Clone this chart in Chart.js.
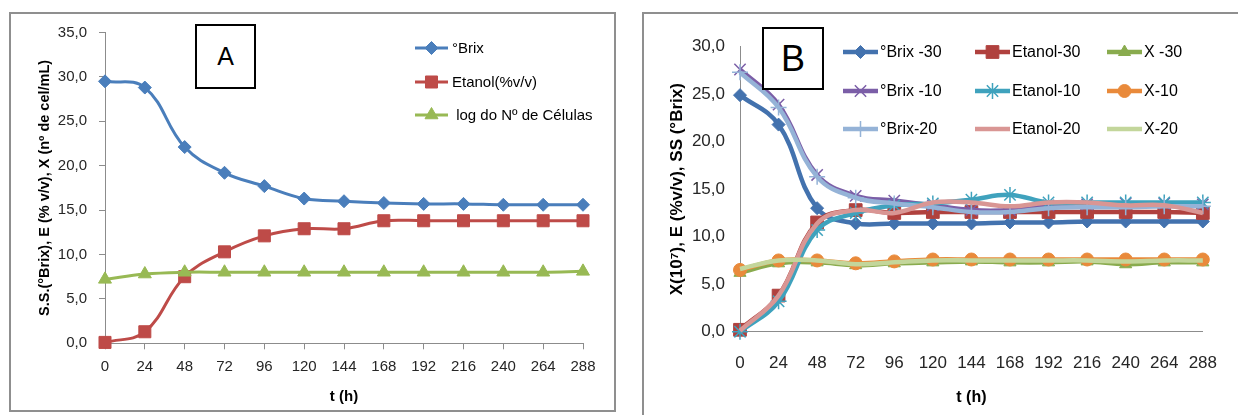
<!DOCTYPE html>
<html>
<head>
<meta charset="utf-8">
<script src="https://cdn.jsdelivr.net/npm/chart.js@4.4.1/dist/chart.umd.min.js"></script>
<style>
  body { margin: 0; width: 1238px; height: 415px; overflow: hidden; background: #fff; position: relative; }
  .panel { position: absolute; border: 2px solid #8f8f8f; box-sizing: border-box; }
  #panelA { left: 9px; top: 12px; width: 607px; height: 400px; }
  #panelB { left: 642px; top: 12px; width: 640px; height: 440px; }
  canvas { position: absolute; top: 0; }
  #chartA { left: 0; }
  #chartB { left: 630px; }
  .tag { position: absolute; border: 2px solid #000; background: #fff; box-sizing: border-box;
         text-align: center; color: #000; font-family: "Liberation Sans Narrow", "Liberation Sans", sans-serif; }
  #tagA { left: 195px; top: 24px; width: 61px; height: 65px; font-size: 25px; line-height: 61px; }
  #tagB { left: 762px; top: 27px; width: 62px; height: 63px; font-size: 36px; line-height: 59px; }
</style>
</head>
<body>
<div class="panel" id="panelA"></div>
<div class="panel" id="panelB"></div>
<canvas id="chartA" width="625" height="415"></canvas>
<canvas id="chartB" width="608" height="415"></canvas>
<div class="tag" id="tagA">A</div>
<div class="tag" id="tagB">B</div>
<script>
// tempo de fermentação (h)
const hours = [0, 24, 48, 72, 96, 120, 144, 168, 192, 216, 240, 264, 288];

// painel A
const brixA    = [29.5, 28.8, 22.1, 19.2, 17.7, 16.3, 16.0, 15.8, 15.7, 15.7, 15.6, 15.6, 15.6];
const etanolA  = [0.1, 1.3, 7.5, 10.3, 12.1, 12.9, 12.9, 13.8, 13.8, 13.8, 13.8, 13.8, 13.8];
const celulasA = [7.2, 7.8, 8.0, 8.0, 8.0, 8.0, 8.0, 8.0, 8.0, 8.0, 8.0, 8.0, 8.1];

// painel B
const brix30   = [24.9, 21.8, 13.0, 11.4, 11.4, 11.4, 11.4, 11.5, 11.5, 11.6, 11.6, 11.6, 11.6];
const etanol30 = [0.2, 3.8, 11.5, 12.8, 12.5, 12.6, 12.6, 12.6, 12.6, 12.6, 12.6, 12.6, 12.5];
const x30      = [6.2, 7.2, 7.3, 7.0, 7.2, 7.3, 7.4, 7.3, 7.3, 7.4, 7.1, 7.3, 7.3];
const brix10   = [27.6, 23.9, 16.5, 14.3, 13.8, 13.3, 12.8, 12.8, 13.3, 13.4, 13.5, 13.5, 13.4];
const etanol10 = [0.0, 3.2, 10.7, 12.5, 13.3, 13.5, 13.9, 14.4, 13.6, 13.6, 13.6, 13.6, 13.6];
const x10      = [6.5, 7.5, 7.5, 7.2, 7.4, 7.6, 7.6, 7.6, 7.6, 7.6, 7.6, 7.6, 7.6];
const brix20   = [27.3, 23.6, 16.3, 14.1, 13.5, 13.1, 12.6, 12.6, 13.0, 13.1, 13.1, 13.2, 13.2];
const etanol20 = [0.1, 3.8, 11.4, 12.8, 12.5, 13.6, 13.6, 13.2, 13.6, 13.6, 13.3, 13.3, 12.5];
const x20      = [6.6, 7.5, 7.5, 7.1, 7.3, 7.5, 7.5, 7.5, 7.5, 7.5, 7.4, 7.5, 7.5];

const FONT = '"Liberation Sans", Arial, sans-serif';
const AXIS_GRAY = '#8c8c8c';

Chart.defaults.font.family = FONT;
Chart.defaults.color = '#262626';

const fmt = (v) => v.toFixed(1).replace('.', ',');

// legenda desenhada dentro do canvas, posicao livre
const panelLegend = {
  id: 'panelLegend',
  afterDatasetsDraw(chart, args, opts) {
    const ctx = chart.ctx;
    ctx.save();
    ctx.font = opts.font;
    ctx.textBaseline = 'middle';
    chart.data.datasets.forEach((ds, i) => {
      const col = i % opts.cols;
      const row = Math.floor(i / opts.cols);
      const x = opts.xs[col];
      const y = opts.ys[row];
      ctx.strokeStyle = ds.borderColor;
      ctx.lineWidth = ds.borderWidth;
      ctx.beginPath();
      ctx.moveTo(x, y);
      ctx.lineTo(x + opts.lineLen, y);
      ctx.stroke();
      if (ds.pointRadius > 0) {
        ctx.fillStyle = ds.pointBackgroundColor || ds.borderColor;
        ctx.strokeStyle = ds.pointBorderColor || ds.borderColor;
        ctx.lineWidth = ds.pointBorderWidth;
        Chart.helpers.drawPoint(ctx, {
          pointStyle: ds.pointStyle, radius: ds.pointRadius,
          borderWidth: ds.pointBorderWidth, rotation: 0
        }, x + opts.lineLen / 2, y);
      }
      ctx.fillStyle = '#000';
      ctx.fillText(ds.label, x + opts.lineLen + opts.gap, y + 1);
    });
    ctx.restore();
  }
};

function serie(label, data, color, style, radius, width, i, extra) {
  return Object.assign({
    label: label,
    data: data,
    borderColor: color,
    backgroundColor: color,
    pointBackgroundColor: color,
    pointBorderColor: color,
    borderWidth: width,
    pointStyle: style,
    pointRadius: radius,
    pointBorderWidth: 1,
    tension: 0.4,
    clip: false,
    order: -i
  }, extra || {});
}

new Chart(document.getElementById('chartA'), {
  type: 'line',
  data: {
    labels: hours,
    datasets: [
      serie('°Brix', brixA, '#4a7ebb', 'rectRot', 6.5, 3, 0),
      serie('Etanol(%v/v)', etanolA, '#be4b48', 'rect', 8.5, 3, 1),
      serie(' log do Nº de Células', celulasA, '#98b954', 'triangle', 7.5, 3, 2)
    ]
  },
  options: {
    responsive: false,
    animation: false,
    events: [],
    layout: { padding: { left: 0, top: 32.5, right: 42, bottom: 0 } },
    scales: {
      x: {
        type: 'category',
        offset: false,
        grid: { drawOnChartArea: false, tickLength: 6, color: AXIS_GRAY },
        border: { color: AXIS_GRAY, width: 1 },
        ticks: { font: { size: 15 }, padding: 8.5, maxRotation: 0, autoSkip: false },
        title: { display: true, text: 't (h)', font: { size: 15, weight: 'bold' },
                 padding: { top: 0, bottom: 9 }, color: '#000' },
        afterFit: (s) => { s.height = 71.7; }
      },
      y: {
        min: 0, max: 35,
        grid: { drawOnChartArea: false, tickLength: 6, color: AXIS_GRAY },
        border: { color: AXIS_GRAY, width: 1 },
        ticks: { stepSize: 5, font: { size: 15 }, padding: 12, callback: fmt },
        title: { display: true, text: 'S.S.(°Brix), E (% v/v), X (nº de cel/mL)',
                 font: { size: 14.5, weight: 'bold' }, padding: { top: 36.3 }, color: '#000' },
        afterFit: (s) => { s.width = 105; }
      }
    },
    plugins: {
      legend: { display: false },
      tooltip: { enabled: false },
      panelLegend: { cols: 1, xs: [415], ys: [48, 82, 115], lineLen: 33, gap: 4, font: '15px ' + FONT }
    }
  },
  plugins: [panelLegend]
});

new Chart(document.getElementById('chartB'), {
  type: 'line',
  data: {
    labels: hours,
    datasets: [
      serie('°Brix -30', brix30, '#4372ae', 'rectRot', 6.5, 4.5, 0),
      serie('Etanol-30', etanol30, '#b0413e', 'rect', 9, 4.5, 1),
      serie('X -30', x30, '#89ab4e', 'triangle', 7, 4.5, 2),
      serie('°Brix -10', brix10, '#7b5ea7', 'crossRot', 8, 4.5, 3, { pointBorderWidth: 1.5 }),
      serie('Etanol-10', etanol10, '#3fa2bd', 'star', 8, 4.5, 4, { pointBorderWidth: 1.5 }),
      serie('X-10', x10, '#e98a3b', 'circle', 6.5, 4.5, 5),
      serie('°Brix-20', brix20, '#95b3d7', 'cross', 8, 4.5, 6, { pointBorderWidth: 1.5 }),
      serie('Etanol-20', etanol20, '#d99694', 'circle', 0, 4.5, 7),
      serie('X-20', x20, '#c3d69b', 'circle', 0, 4.5, 8)
    ]
  },
  options: {
    responsive: false,
    animation: false,
    events: [],
    layout: { padding: { left: 0, top: 46.7, right: 14.5, bottom: 0 } },
    scales: {
      x: {
        type: 'category',
        offset: false,
        grid: { display: false, drawTicks: false },
        border: { color: AXIS_GRAY, width: 1 },
        ticks: { font: { size: 17 }, padding: 21, maxRotation: 0, autoSkip: false },
        title: { display: true, text: 't (h)', font: { size: 16, weight: 'bold' },
                 padding: { top: 0, bottom: 8 }, color: '#000' },
        afterFit: (s) => { s.height = 83.3; }
      },
      y: {
        min: 0, max: 30,
        grid: { display: false, drawTicks: false },
        border: { color: AXIS_GRAY, width: 1 },
        ticks: { stepSize: 5, font: { size: 17 }, padding: 15, callback: fmt },
        title: { display: true, text: 'X(10⁷), E (%v/v), SS (°Brix)',
                 font: { size: 17, weight: 'bold' }, padding: { top: 37 }, color: '#000' },
        afterFit: (s) => { s.width = 110; }
      }
    },
    plugins: {
      legend: { display: false },
      tooltip: { enabled: false },
      panelLegend: { cols: 3, xs: [213, 345, 477], ys: [52, 91, 129], lineLen: 35, gap: 2, font: '16px ' + FONT }
    }
  },
  plugins: [panelLegend]
});
</script>
</body>
</html>
